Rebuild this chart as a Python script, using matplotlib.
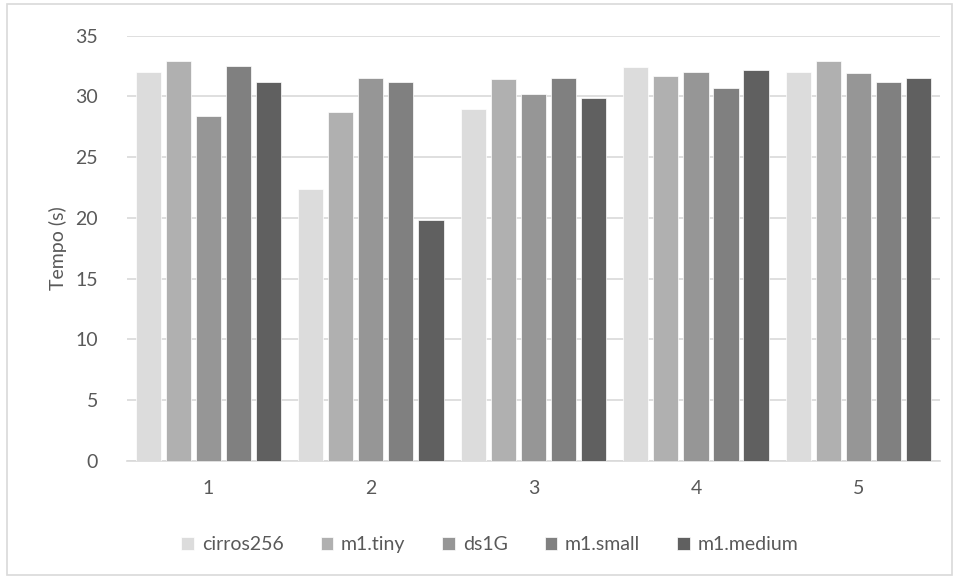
import matplotlib
matplotlib.use("Agg")
import matplotlib.pyplot as plt
import numpy as np
from matplotlib.patches import Rectangle

categories = ["1", "2", "3", "4", "5"]
series_names = ["cirros256", "m1.tiny", "ds1G", "m1.small", "m1.medium"]
cirros256 = [32.0, 22.4, 29.0, 32.4, 32.0]
m1_tiny = [32.9, 28.7, 31.4, 31.7, 32.9]
ds1G = [28.4, 31.5, 30.2, 32.0, 31.9]
m1_small = [32.5, 31.2, 31.5, 30.7, 31.2]
m1_medium = [31.2, 19.8, 29.9, 32.2, 31.5]
yticks = [0, 5, 10, 15, 20, 25, 30, 35]

series = [cirros256, m1_tiny, ds1G, m1_small, m1_medium]
colors = ["#DCDCDC", "#B0B0B0", "#969696", "#808080", "#606060"]

plt.rcParams['font.family'] = ['Lato', 'DejaVu Sans']
text_color = "#595959"
fs = 14

fig = plt.figure(figsize=(9.55, 5.79), dpi=100)
ax = fig.add_axes([0.133, 0.2038, 0.851, 0.7345])

x = np.arange(1, len(categories) + 1)
step = 0.185
width = 0.155
for i, (name, vals) in enumerate(zip(series_names, series)):
    ax.bar(x + (i - 2) * step, vals, width=width, color=colors[i], label=name,
           edgecolor="white", linewidth=0.5, zorder=3)

ax.set_xlim(0.5, 5.5)
ax.set_ylim(0, 35)
ax.set_yticks(yticks)
ax.set_xticks(x)
ax.set_xticklabels(categories)
ax.yaxis.grid(True, color="#D9D9D9", linewidth=1.2, zorder=0)
ax.set_axisbelow(True)
for s in ["top", "right", "left"]:
    ax.spines[s].set_visible(False)
ax.spines["bottom"].set_color("#D9D9D9")
ax.spines["bottom"].set_linewidth(1.2)
ax.tick_params(axis="both", length=0, labelsize=fs, colors=text_color)
ax.tick_params(axis="y", pad=21)
ax.tick_params(axis="x", pad=14)
ax.set_ylabel("Tempo (s)", fontsize=fs, color=text_color, labelpad=6)

leg = fig.legend(loc="center", bbox_to_anchor=(0.513, 0.059), ncol=5, frameon=False,
                 fontsize=fs, handlelength=0.65, handleheight=0.65, handletextpad=0.4,
                 columnspacing=1.9, labelcolor=text_color)

fig.patches.append(Rectangle((7 / 955, 4 / 579), 945 / 955, 571 / 579, transform=fig.transFigure,
                             fill=False, edgecolor="#D9D9D9", linewidth=1.2))

fig.savefig("out.png", dpi=100)
